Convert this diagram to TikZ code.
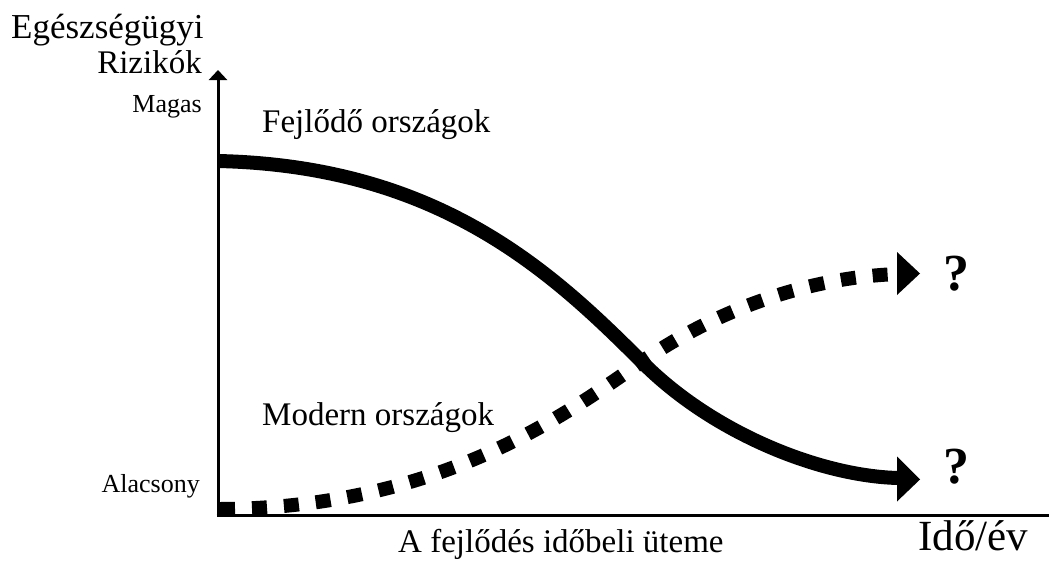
\documentclass[tikz,border=0pt]{standalone}
\usepackage{fontspec}
\setmainfont{Liberation Serif}
\usetikzlibrary{arrows.meta}
\begin{document}
\begin{tikzpicture}[x=1pt,y=-1pt,
  lbl/.style={inner sep=0pt,font=\fontsize{33}{33}\selectfont},
  small/.style={inner sep=0pt,font=\fontsize{26}{26}\selectfont},
  qm/.style={inner sep=0pt,font=\fontsize{52}{52}\selectfont\bfseries},
  axis/.style={line width=3pt},
  curve/.style={line width=14pt},
  head/.style={fill=black}]
\useasboundingbox (0,0) rectangle (1049,560);
% axes
\coordinate (o) at (218,516.5);
\coordinate (ytop) at (218,70);
\coordinate (xstart) at (216.5,515);
\coordinate (xend) at (1049,515);
\draw[axis,-{Triangle[length=10pt,width=18pt]}] (o) -- (ytop);
\draw[axis] (xstart) -- (xend);
% labels
\node[lbl,anchor=base west,font=\fontsize{35}{35}\selectfont] (eg) at (11,38) {Egészségügyi};
\node[lbl,anchor=base east] (riz) at (202,73) {Rizikók};
\node[small,anchor=base east] (mag) at (202,112) {Magas};
\node[small,anchor=base east] (ala) at (200,492) {Alacsony};
\node[lbl,anchor=base west] (fej) at (262,132) {Fejlődő országok};
\node[lbl,anchor=base west] (mod) at (262,425) {Modern országok};
\node[lbl,anchor=base west] (tem) at (398,552) {A fejlődés időbeli üteme};
\node[lbl,anchor=base west,font=\fontsize{43}{43}\selectfont] (ido) at (918,550) {Idő/év};
\node[qm,anchor=base west] (q1) at (943,290) {?};
\node[qm,anchor=base west] (q2) at (943,483) {?};
% solid curve
\coordinate (s0) at (218,161);
\coordinate (s1) at (643,363);
\coordinate (s2) at (898,478);
\draw[curve] (s0) .. controls (440,166) and (553,273) .. (s1)
  .. controls (713,433) and (820,476) .. (s2);
\fill[head] (897,456.5) -- (920,479.5) -- (897,501.5) -- cycle;
% dotted curve
\coordinate (d0) at (220,509);
\coordinate (d1) at (637,365);
\coordinate (d2) at (898,274);
\draw[curve,dash pattern=on 15pt off 17pt] (d0) .. controls (440,508) and (567,413) .. (d1)
  .. controls (720,306) and (815,277) .. (d2);
\fill[head] (897,252) -- (920,273.5) -- (897,295) -- cycle;
\end{tikzpicture}
\end{document}
